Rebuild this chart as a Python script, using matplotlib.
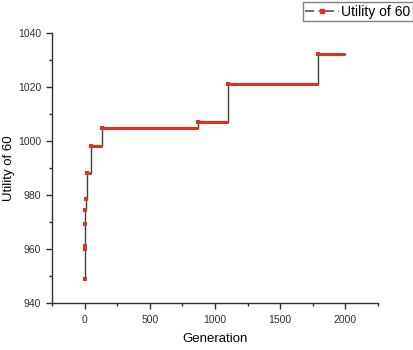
import matplotlib
matplotlib.use('Agg')
import matplotlib.pyplot as plt
from matplotlib.lines import Line2D
from matplotlib.ticker import MultipleLocator

plt.rcParams['font.family'] = ['Liberation Sans', 'DejaVu Sans']

# generation at which each level starts, and the utility value
gens = [0, 1, 2, 3, 5, 8, 20, 45, 130, 870, 1097, 1786]
vals = [949.0, 960.0, 961.4, 969.3, 974.6, 978.5, 988.4, 998.2, 1004.7, 1006.9, 1021.0, 1032.2]
last_gen = 2000

ends = gens[1:] + [last_gen]

fig = plt.figure(figsize=(4.14, 3.50), dpi=100)
ax = fig.add_axes([0.126, 0.133, 0.787, 0.773])

ax.step(gens + [last_gen], vals + [vals[-1]], where='post', color='#404040', lw=1.0, zorder=2)
ax.hlines(vals, gens, ends, color='#e03020', lw=2.2, zorder=3)
ax.plot(gens, vals, 's', color='#e03020', ms=2.2, mew=0, zorder=4)

ax.set_xlim(-250, 2250)
ax.set_ylim(940, 1040)
ax.set_xticks([0, 500, 1000, 1500, 2000])
ax.set_yticks([940, 960, 980, 1000, 1020, 1040])
ax.xaxis.set_minor_locator(MultipleLocator(250))
ax.yaxis.set_minor_locator(MultipleLocator(10))

for s in ['top', 'right']:
    ax.spines[s].set_visible(False)
for s in ['left', 'bottom']:
    ax.spines[s].set_color('#303030')
    ax.spines[s].set_linewidth(1.0)

ax.tick_params(which='major', direction='out', length=4, width=1, color='#303030',
               labelsize=7.5, labelcolor='#303030', pad=4)
ax.tick_params(which='minor', direction='out', length=2.5, width=1, color='#303030')

ax.set_xlabel('Generation', fontsize=9.5, labelpad=6)
ax.set_ylabel('Utility of 60', fontsize=9.5, labelpad=2)

handle = Line2D([0], [0], color='#606060', lw=1.3, dashes=(5, 2.5, 1, 2.5), marker='s',
                mfc='#e03020', mec='#e03020', ms=2.2)
leg = fig.legend([handle], ['Utility of 60'], loc='upper right',
                 bbox_to_anchor=(0.997, 0.993), fontsize=10, fancybox=False,
                 handlelength=2.4, handletextpad=0.2, borderpad=0.15,
                 borderaxespad=0, numpoints=1)
leg.get_frame().set_edgecolor('#606060')
leg.get_frame().set_linewidth(1.0)

plt.savefig('out.png', dpi=100)
